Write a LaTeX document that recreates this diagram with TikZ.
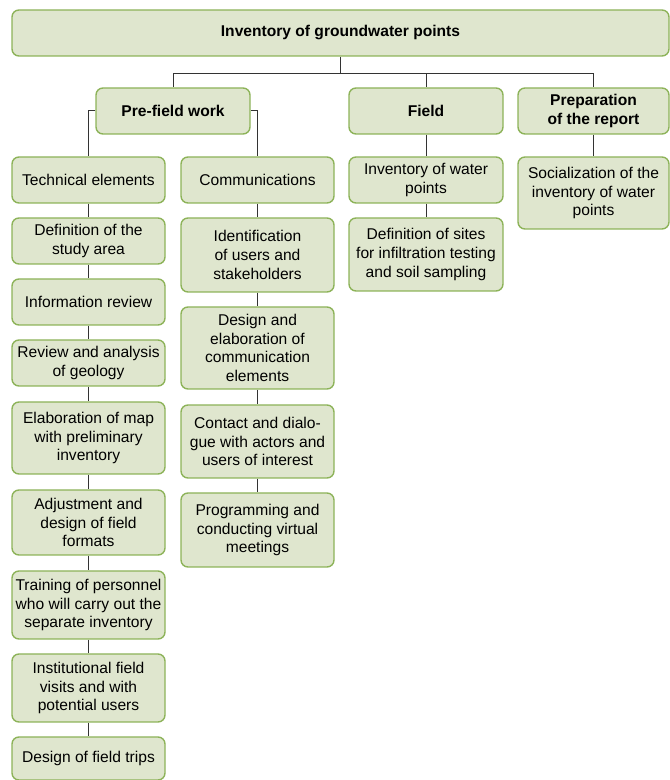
\documentclass[tikz,border=0pt]{standalone}
\usepackage{fontspec}
\setmainfont{Liberation Sans}
\definecolor{boxfill}{HTML}{DFE6CE}
\definecolor{boxdraw}{HTML}{8DB359}
\definecolor{linec}{HTML}{333333}
\tikzset{
  gbox/.style={draw=boxdraw, fill=boxfill, line width=1.4pt, rounded corners=7pt,
    inner sep=0pt, align=center, text=black,
    font=\fontsize{15.6pt}{18.7pt}\selectfont},
  hbox/.style={gbox, font=\fontsize{15.6pt}{18.7pt}\selectfont\bfseries},
  conn/.style={draw=linec, line width=1pt}
}
\begin{document}
\begin{tikzpicture}[x=1pt,y=1pt]
\useasboundingbox (0,0) rectangle (670,780);
% top
\node[hbox, minimum width=657, minimum height=46] (top) at (340.5,747) {Inventory of groundwater points};
\node[hbox, minimum width=154, minimum height=46] (pre) at (173,669) {Pre-field work};
\node[hbox, minimum width=154, minimum height=46] (field) at (426,669) {Field};
\node[hbox, minimum width=151, minimum height=46] (prep) at (593.5,669) {Preparation\\of the report};
% column 1
\node[gbox, minimum width=153, minimum height=46] (t1) at (88.5,600) {Technical elements};
\node[gbox, minimum width=153, minimum height=46] (t2) at (88.5,539) {Definition of the\\study area};
\node[gbox, minimum width=153, minimum height=46] (t3) at (88.5,478) {Information review};
\node[gbox, minimum width=153, minimum height=46] (t4) at (88.5,417) {Review and analysis\\of geology};
\node[gbox, minimum width=153, minimum height=72] (t5) at (88.5,342) {Elaboration of map\\with preliminary\\inventory};
\node[gbox, minimum width=153, minimum height=65] (t6) at (88.5,257.5) {Adjustment and\\design of field\\formats};
\node[gbox, minimum width=153, minimum height=68] (t7) at (88.5,175) {Training of personnel\\who will carry out the\\separate inventory};
\node[gbox, minimum width=153, minimum height=68] (t8) at (88.5,92) {Institutional field\\visits and with\\potential users};
\node[gbox, minimum width=153, minimum height=43] (t9) at (88.5,21.5) {Design of field trips};
% column 2
\node[gbox, minimum width=153, minimum height=46] (c1) at (257.5,600) {Communications};
\node[gbox, minimum width=153, minimum height=74] (c2) at (257.5,525) {Identification\\of users and\\stakeholders};
\node[gbox, minimum width=153, minimum height=82] (c3) at (257.5,432) {Design and\\elaboration of\\communication\\elements};
\node[gbox, minimum width=153, minimum height=73] (c4) at (257.5,338.5) {Contact and dialo-\\gue with actors and\\users of interest};
\node[gbox, minimum width=153, minimum height=74] (c5) at (257.5,250) {Programming and\\conducting virtual\\meetings};
% field column
\node[gbox, minimum width=154, minimum height=46] (f1) at (426,600) {Inventory of water\\points};
\node[gbox, minimum width=154, minimum height=73] (f2) at (426,525.5) {Definition of sites\\for infiltration testing\\and soil sampling};
% prep column
\node[gbox, minimum width=151, minimum height=72] (p1) at (593.5,587) {Socialization of the\\inventory of water\\points};
% connectors
\coordinate (bus) at ([yshift=-17pt]top.south);
\draw[conn] (top.south) -- (bus);
\draw[conn] (bus) -| (pre.north);
\draw[conn] (bus) -| (field.north);
\draw[conn] (bus) -| (prep.north);
\draw[conn] (pre.west) -| (t1.north);
\draw[conn] (pre.east) -| (c1.north);
\draw[conn] (field.south) -- (f1.north);
\draw[conn] (f1.south) -- (f2.north);
\draw[conn] (prep.south) -- (p1.north);
\foreach \a/\b in {t1/t2,t2/t3,t3/t4,t4/t5,t5/t6,t6/t7,t7/t8,t8/t9,c1/c2,c2/c3,c3/c4,c4/c5}
  \draw[conn] (\a.south) -- (\b.north);
\end{tikzpicture}
\end{document}
